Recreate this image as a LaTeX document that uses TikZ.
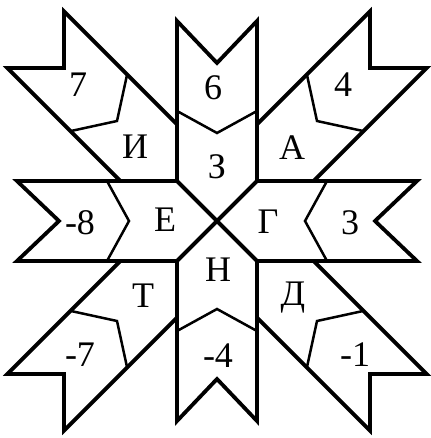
\documentclass[tikz,border=0pt]{standalone}
\usepackage{fontspec}
\setmainfont{Liberation Serif}
\tikzset{
  outline/.style={line width=3.8pt, line join=miter},
  divider/.style={line width=2.5pt, line join=miter},
  lbl/.style={font=\fontsize{36}{36}\selectfont, inner sep=0pt}
}
\begin{document}
\begin{tikzpicture}[x=1pt,y=-1pt]
\useasboundingbox (0,0) rectangle (430,438);
\begin{scope}[shift={(217,221)}]
  % straight arms
  \foreach \r in {0,90,180,270}{
    \begin{scope}[rotate=\r]
      \draw[outline] (-40,-40) -- (0,0) -- (40,-40) -- (40,-200) -- (0,-158) -- (-40,-200) -- cycle;
      \draw[divider] (-40,-110) -- (0,-88) -- (40,-110);
    \end{scope}
  }
  % diagonal arms
  \foreach \r in {0,90,180,270}{
    \begin{scope}[rotate=\r]
      \draw[outline] (40,40) -- (96.6,40) -- (209.6,153) -- (153,153) -- (153,209.6) -- (40,96.6) -- cycle;
      \draw[divider] (146,90) -- (100,100) -- (90,146);
    \end{scope}
  }
\end{scope}
% labels
\node[lbl] (n7)  at (78,85)   {7};
\node[lbl] (nI)  at (135,147) {И};
\node[lbl] (n6)  at (213,88)  {6};
\node[lbl] (nZ)  at (217,167) {З};
\node[lbl] (n4)  at (343,85)  {4};
\node[lbl] (nA)  at (292,148) {А};
\node[lbl] (nm8) at (80,223)  {-8};
\node[lbl] (nE)  at (165,220) {Е};
\node[lbl] (nG)  at (268,222) {Г};
\node[lbl] (n3)  at (350,223) {3};
\node[lbl] (nT)  at (143,296) {Т};
\node[lbl] (nm7) at (80,355)  {-7};
\node[lbl] (nN)  at (218,270) {Н};
\node[lbl] (nm4) at (218,356) {-4};
\node[lbl] (nD)  at (293,298) {Д};
\node[lbl] (nm1) at (355,355) {-1};
\end{tikzpicture}
\end{document}
